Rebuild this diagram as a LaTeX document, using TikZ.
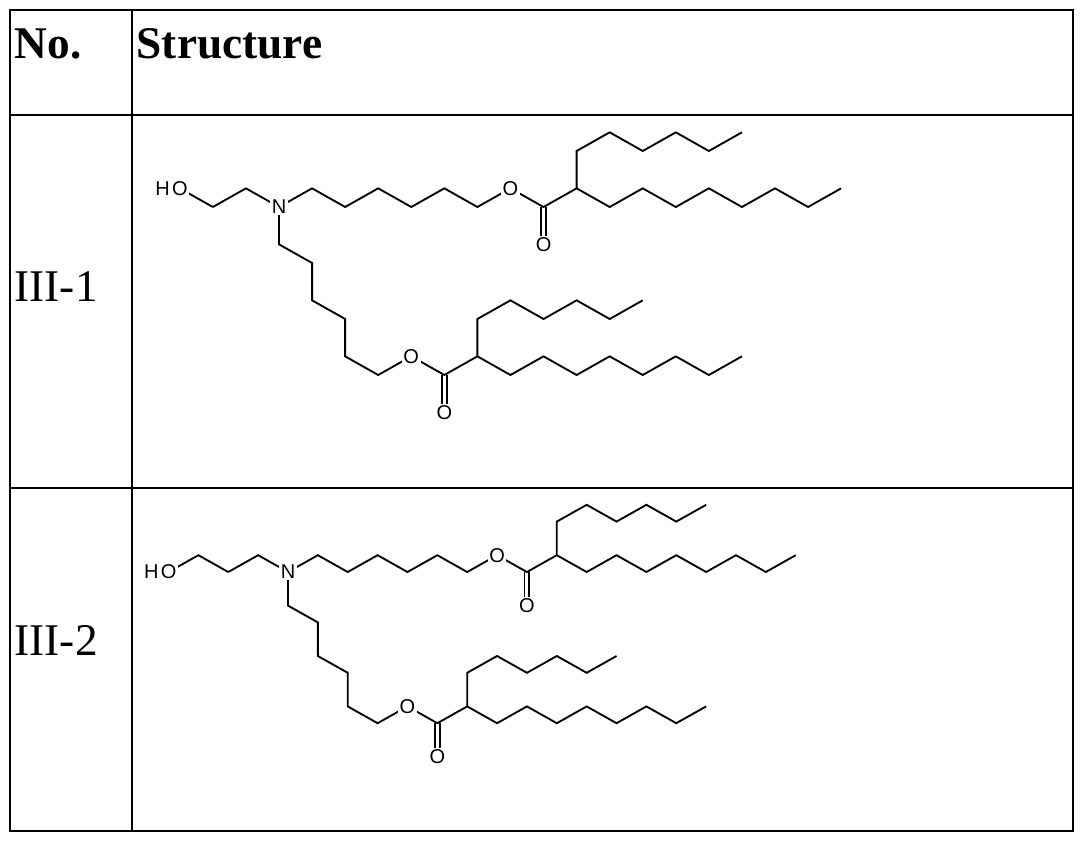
\documentclass[tikz,border=0pt]{standalone}
\usepackage{fontspec}
\setmainfont{Liberation Serif}
\newfontfamily\atomfont{Liberation Sans}
\tikzset{
  bond/.style={line width=1.4pt, line join=miter},
  atom/.style={fill=white, inner sep=1.2pt, font=\atomfont\fontsize{15}{15}\selectfont},
  grid/.style={line width=1.6pt},
  head/.style={anchor=west, font=\bfseries\fontsize{34}{34}\selectfont},
  lab/.style={anchor=west, font=\fontsize{34}{34}\selectfont},
}
\newcommand\molbody{%
  \draw[bond] (-2,0)--(-1,-1)--(0,0)--(1,-1)--(2,0)--(3,-1)--(4,0)--(5,-1)--(6,0)--(7,-1)--(8,0)--(9,-1)--(10,0)--(11,-1)--(12,0)--(13,-1)--(14,0)--(15,-1)--(16,0)--(17,-1);
  \draw[bond] (9,-1)--(9,-3)--(10,-4)--(11,-3)--(12,-4)--(13,-3)--(14,-4);
  \draw[bond] ([xshift=-1.8pt]8,0)--([xshift=-1.8pt]8,2);
  \draw[bond] ([xshift=1.8pt]8,0)--([xshift=1.8pt]8,2);
  \draw[bond] (0,0)--(0,2)--(1,3)--(1,5)--(2,6)--(2,8)--(3,9)--(4,8)--(5,9)--(6,8)--(7,9)--(8,8)--(9,9)--(10,8)--(11,9)--(12,8)--(13,9)--(14,8);
  \draw[bond] (6,8)--(6,6)--(7,5)--(8,6)--(9,5)--(10,6)--(11,5);
  \draw[bond] ([xshift=-1.8pt]5,9)--([xshift=-1.8pt]5,11);
  \draw[bond] ([xshift=1.8pt]5,9)--([xshift=1.8pt]5,11);
  \node[atom] (n) at (0,0) {N};
  \node[atom] (o1) at (7,-1) {O};
  \node[atom] (o2) at (8,2) {O};
  \node[atom] (o3) at (4,8) {O};
  \node[atom] (o4) at (5,11) {O};
}
\begin{document}
\begin{tikzpicture}[x=0.75pt,y=-0.75pt]
\useasboundingbox (0,0) rectangle (1084,842);
\fill[white] (0,0) rectangle (1084,842);
% table
\draw[grid] (10,10) rectangle (1073,831);
\draw[grid] (132,10) -- (132,831);
\draw[grid] (10,115) -- (1073,115);
\draw[grid] (10,488) -- (1073,488);
\node[head] (hno) at (10,44) {No.};
\node[head] (hst) at (132,44) {Structure};
\node[lab] (l1) at (10,287) {III-1};
\node[lab] (l2) at (10,640) {III-2};
% III-1
\begin{scope}[shift={(279,207)}]
\begin{scope}[x={(24.8pt,0)}, y={(0,-14pt)}]
  \molbody
  \draw[bond] (-2,0)--(-3,-1);
  \node[atom] (oh1) at (-3,-1) {O};
  \node[atom, anchor=east, inner xsep=0pt] (h1) at (oh1.west) {H};
\end{scope}
\end{scope}
% III-2
\begin{scope}[shift={(288,572)}]
\begin{scope}[x={(22.4pt,0)}, y={(0,-12.6pt)}]
  \molbody
  \draw[bond] (-2,0)--(-3,-1)--(-4,0);
  \node[atom] (oh2) at (-4,0) {O};
  \node[atom, anchor=east, inner xsep=0pt] (h2) at (oh2.west) {H};
\end{scope}
\end{scope}
\end{tikzpicture}
\end{document}
